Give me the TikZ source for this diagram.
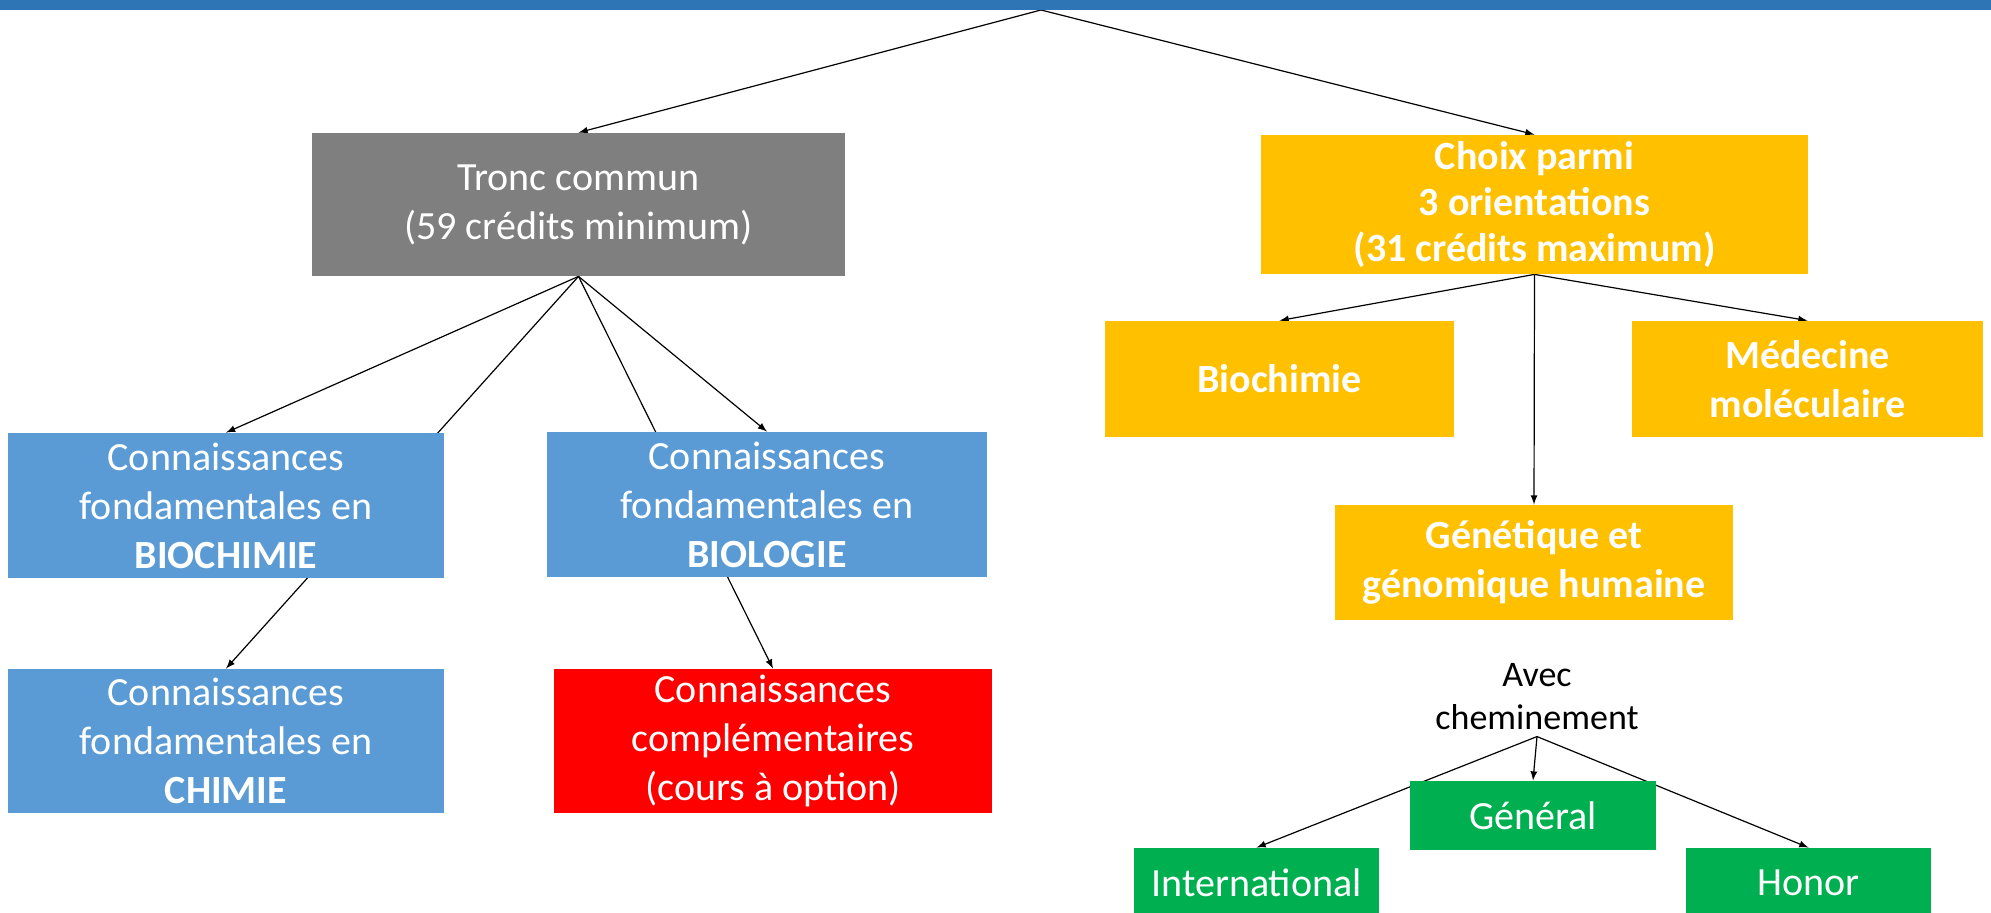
\documentclass[tikz,border=0pt]{standalone}
\usepackage{fontspec}
\setmainfont{Carlito}
\usetikzlibrary{backgrounds}

\definecolor{barblue}{HTML}{2E75B6}
\definecolor{boxgrey}{HTML}{7F7F7F}
\definecolor{boxorange}{HTML}{FFC000}
\definecolor{boxblue}{HTML}{5B9BD5}
\definecolor{boxred}{HTML}{FF0000}
\definecolor{boxgreen}{HTML}{00B050}

\begin{document}
\begin{tikzpicture}[x=0.5pt, y=-0.5pt,
            box/.style = {rectangle, align=center, inner sep=0pt, text=white,
                          font=\fontsize{20}{24.5}\selectfont},
            grey/.style = {box, fill=boxgrey},
            orange/.style = {box, fill=boxorange, font=\fontsize{20}{24.5}\selectfont\bfseries},
            blue/.style = {box, fill=boxblue},
            red/.style = {box, fill=boxred},
            green/.style = {box, fill=boxgreen},
            link/.style = {draw, line width=0.6pt, -latex}
        ]
        \clip (0,0) rectangle (1991,913);
        \fill[barblue] (0,0) rectangle (1991,10);
        \coordinate (top) at (1041,10);

        % left branch
        \node[grey, minimum width=266.5pt, minimum height=71.5pt] (tronc) at (578.5,204.5)
            {Tronc commun\\(59 crédits minimum)};
        \node[blue, minimum width=218pt, minimum height=72.5pt] (biochim) at (226,505.5)
            {Connaissances\\fondamentales en\\\textbf{BIOCHIMIE}};
        \node[blue, minimum width=220pt, minimum height=72.5pt] (biolo) at (767,504.5)
            {Connaissances\\fondamentales en\\\textbf{BIOLOGIE}};
        \node[blue, minimum width=218pt, minimum height=72pt] (chimie) at (226,741)
            {Connaissances\\fondamentales en\\\textbf{CHIMIE}};
        \node[red, minimum width=219pt, minimum height=72pt] (compl) at (773,741)
            {Connaissances\\complémentaires\\(cours à option)};

        % right branch
        \node[orange, minimum width=273.5pt, minimum height=69.5pt,
              font=\fontsize{20}{23}\selectfont\bfseries] (choix) at (1534.5,204.5)
            {Choix parmi\\3 orientations\\(31 crédits maximum)};
        \node[orange, minimum width=174.5pt, minimum height=58pt] (biochimie) at (1279.5,379)
            {Biochimie};
        \node[orange, minimum width=175.5pt, minimum height=58pt] (medecine) at (1807.5,379)
            {Médecine\\moléculaire};
        \node[orange, minimum width=199pt, minimum height=57.5pt] (genetique) at (1534,562.5)
            {Génétique et\\génomique humaine};

        % cheminements
        \node[align=center, inner sep=3pt, font=\fontsize{18}{21.5}\selectfont] (avec) at (1537,697)
            {Avec\\cheminement};
        \node[green, minimum width=123pt, minimum height=34.5pt] (general) at (1533,815.5)
            {Général};
        \node[green, minimum width=122.5pt, minimum height=35pt] (intl) at (1256.5,883)
            {International};
        \node[green, minimum width=122.5pt, minimum height=35pt] (honor) at (1808.5,883)
            {Honor};

        \begin{scope}[on background layer]
            \draw[link] (top) -- (tronc.north);
            \draw[link] (top) -- (choix.north);
            \draw[link] (tronc.south) -- (biochim.north);
            \draw[link] (tronc.south) -- (chimie.north);
            \draw[link] (tronc.south) -- (biolo.north);
            \draw[link] (tronc.south) -- (compl.north);
            \draw[link] (choix.south) -- (biochimie.north);
            \draw[link] (choix.south) -- (medecine.north);
            \draw[link] (choix.south) -- (genetique.north);
            \draw[link] (avec.south) -- (general.north);
            \draw[link] (avec.south) -- (intl.north);
            \draw[link] (avec.south) -- (honor.north);
        \end{scope}
    \end{tikzpicture}
\end{document}
